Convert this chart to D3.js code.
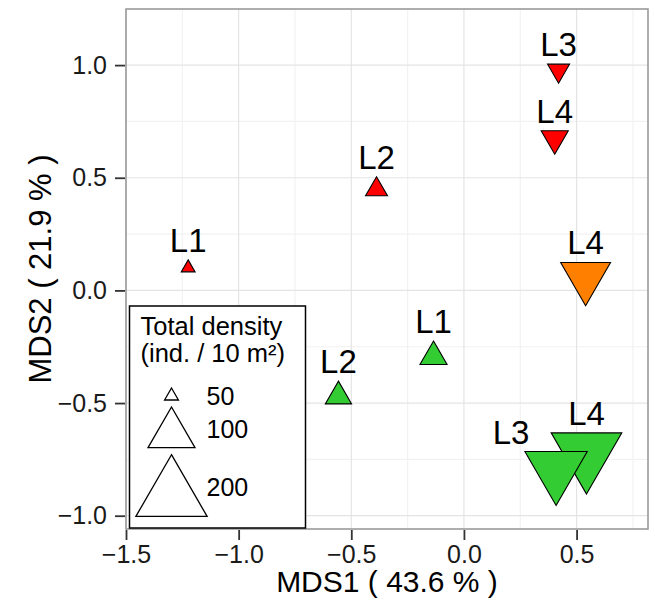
<!DOCTYPE html>
<html><head><meta charset="utf-8">
<script src="https://cdn.jsdelivr.net/npm/d3@7"></script>
<style>
body{margin:0;background:#fff;}
text{font-family:"Liberation Sans",Arial,Helvetica,sans-serif;}
</style>
</head><body>
<svg id="chart" width="655" height="606"></svg>
<script>
// ---------------- data ----------------
const pointLabels = ["L1", "L2", "L3", "L4", "L4", "L1", "L2", "L4", "L3"];
const pointGroups = ["A", "A", "A", "A", "B", "C", "C", "C", "C"];
const mds1 = [-1.224, -0.388, 0.420, 0.403, 0.540, -0.135, -0.557, 0.544, 0.409];
const mds2 = [0.100, 0.448, 0.976, 0.674, 0.060, -0.294, -0.470, -0.723, -0.795];
const density = [50, 53, 53, 58, 109, 58, 57, 197, 157];
const groupNames = ["A", "B", "C"];
const groupColors = ["#ff0000", "#ff8000", "#33cc33"];
const labelShapes = ["L1", "L2", "L3", "L4"];
const xTicks = [-1.5, -1.0, -0.5, 0.0, 0.5];
const yTicks = [-1.0, -0.5, 0.0, 0.5, 1.0];
const xMinor = [-1.25, -0.75, -0.25, 0.25, 0.75];
const yMinor = [-0.75, -0.25, 0.25, 0.75];
const legendBreaks = [50, 100, 200];
const xTitle = "MDS1 ( 43.6 % )";
const yTitle = "MDS2 ( 21.9 % )";
const legendTitle = ["Total density", "(ind. / 10 m²)"];

// ---------------- layout ----------------
const svg = d3.select("#chart");
const P = {left: 126, right: 648, top: 9, bottom: 529};
const x = d3.scaleLinear().domain([-1.5, 0.817]).range([P.left, P.right]);
const y = d3.scaleLinear().domain([-1.059, 1.249]).range([P.bottom, P.top]);
const color = d3.scaleOrdinal().domain(groupNames).range(groupColors);
const shape = d3.scaleOrdinal().domain(labelShapes).range(["up", "up", "down", "down"]);
const norm = d3.scaleLinear().domain([50, 200]).range([0, 1]).clamp(true);
const hScale = d3.scaleSqrt().domain([0, 1]).range([12, 61.7]);
const triH = v => hScale(norm(v));
const labelNudgeX = pointLabels.map((l, i) => (pointGroups[i] === "C" && l === "L3") ? -0.2 : 0);

function triPath(h, dir) {
  const w = h / Math.sqrt(3);
  if (dir === "up") return `M0,${-2*h/3}L${w},${h/3}L${-w},${h/3}Z`;
  return `M0,${2*h/3}L${w},${-h/3}L${-w},${-h/3}Z`;
}

// panel background
svg.append("rect").attr("x", P.left).attr("y", P.top)
  .attr("width", P.right - P.left).attr("height", P.bottom - P.top).attr("fill", "#fff");

// grid
const grid = svg.append("g");
grid.selectAll(".vminor").data(xMinor).enter().append("line")
  .attr("x1", d => x(d)).attr("x2", d => x(d)).attr("y1", P.top).attr("y2", P.bottom)
  .attr("stroke", "#f2f2f2").attr("stroke-width", 1.2);
grid.selectAll(".hminor").data(yMinor).enter().append("line")
  .attr("y1", d => y(d)).attr("y2", d => y(d)).attr("x1", P.left).attr("x2", P.right)
  .attr("stroke", "#f2f2f2").attr("stroke-width", 1.2);
grid.selectAll(".vmajor").data(xTicks).enter().append("line")
  .attr("x1", d => x(d)).attr("x2", d => x(d)).attr("y1", P.top).attr("y2", P.bottom)
  .attr("stroke", "#e4e4e4").attr("stroke-width", 1.2);
grid.selectAll(".hmajor").data(yTicks).enter().append("line")
  .attr("y1", d => y(d)).attr("y2", d => y(d)).attr("x1", P.left).attr("x2", P.right)
  .attr("stroke", "#e4e4e4").attr("stroke-width", 1.2);

// points
const idx = d3.range(pointLabels.length);
svg.append("g").selectAll("path").data(idx).enter().append("path")
  .attr("transform", i => `translate(${x(mds1[i])},${y(mds2[i])})`)
  .attr("d", i => triPath(triH(density[i]), shape(pointLabels[i])))
  .attr("fill", i => color(pointGroups[i]))
  .attr("stroke", "#000").attr("stroke-width", 1.1).attr("stroke-linejoin", "miter");

// point labels
svg.append("g").selectAll("text").data(idx).enter().append("text")
  .attr("x", i => x(mds1[i] + labelNudgeX[i]))
  .attr("y", i => {
    const h = triH(density[i]);
    const top = shape(pointLabels[i]) === "up" ? y(mds2[i]) - 2*h/3 : y(mds2[i]) - h/3;
    return top - 8;
  })
  .attr("text-anchor", "middle").attr("font-size", 33).attr("fill", "#000")
  .text(i => pointLabels[i]);

// panel border
svg.append("rect").attr("x", P.left).attr("y", P.top)
  .attr("width", P.right - P.left).attr("height", P.bottom - P.top)
  .attr("fill", "none").attr("stroke", "#9a9a9a").attr("stroke-width", 1.6);

// axes
const fmt = d3.format(".1f");
const xAxis = svg.append("g").attr("transform", `translate(0,${P.bottom + 1})`)
  .call(d3.axisBottom(x).tickValues(xTicks).tickSize(10).tickPadding(5).tickFormat(fmt));
const yAxis = svg.append("g").attr("transform", `translate(${P.left - 1},0)`)
  .call(d3.axisLeft(y).tickValues(yTicks).tickSize(10).tickPadding(8).tickFormat(fmt));
[xAxis, yAxis].forEach(a => {
  a.select(".domain").remove();
  a.selectAll(".tick line").attr("stroke", "#333").attr("stroke-width", 1.8);
  a.selectAll(".tick text").attr("font-size", 25).attr("fill", "#1a1a1a")
    .attr("font-family", '"Liberation Sans",Arial,Helvetica,sans-serif');
});

// axis titles
svg.append("text").attr("x", (P.left + P.right) / 2).attr("y", 592)
  .attr("text-anchor", "middle").attr("font-size", 30).attr("fill", "#000").text(xTitle);
svg.append("text").attr("transform", `translate(51,${(P.top + P.bottom) / 2}) rotate(-90)`)
  .attr("text-anchor", "middle").attr("font-size", 31).attr("fill", "#000").text(yTitle);

// legend
const L = {x: 129.5, y: 306, w: 176, h: 222};
const lg = svg.append("g");
lg.append("rect").attr("x", L.x).attr("y", L.y).attr("width", L.w).attr("height", L.h)
  .attr("fill", "#fff").attr("stroke", "#000").attr("stroke-width", 1.5);
lg.selectAll(".lt").data(legendTitle).enter().append("text")
  .attr("x", L.x + 11).attr("y", (d, i) => L.y + 29 + i * 26.7)
  .attr("font-size", 25.5).attr("fill", "#000").text(d => d);
let cursor = L.y + 82;
const keyCx = L.x + 42;
legendBreaks.forEach(v => {
  const h = triH(v);
  const cy = cursor + 2*h/3;
  lg.append("path").attr("transform", `translate(${keyCx},${cy})`)
    .attr("d", triPath(h, "up")).attr("fill", "#fff").attr("stroke", "#000").attr("stroke-width", 1.3);
  lg.append("text").attr("x", L.x + 77).attr("y", cursor + h/2 + 2)
    .attr("dy", "0.35em").attr("font-size", 25).attr("fill", "#000").text(v);
  cursor += h + 7;
});
</script>
</body></html>
